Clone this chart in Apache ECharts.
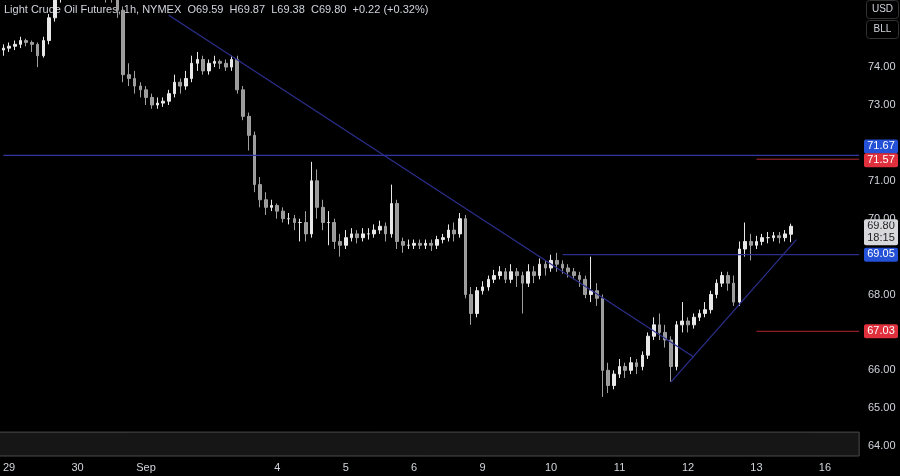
<!DOCTYPE html>
<html><head><meta charset="utf-8">
<script src="https://cdn.jsdelivr.net/npm/echarts@6/dist/echarts.min.js"></script>
<style>html,body{margin:0;background:#000;}#c{width:900px;height:476px;}</style>
</head><body><div id="c"></div>
<script>
// Hourly-ish candles [open, close, low, high]
const candles = [
[74.45,74.5,74.3,74.6],[74.5,74.55,74.4,74.65],[74.55,74.6,74.45,74.7],[74.6,74.7,74.5,74.8],[74.7,74.65,74.55,74.75],
[74.65,74.6,74.4,74.7],[74.6,74.3,74.0,74.65],[74.3,74.7,74.25,74.8],[74.7,75.3,74.6,75.4],[75.3,75.9,75.2,76.0],
[75.9,75.9,75.7,76.1],[75.9,76.0,75.8,76.2],[76.0,75.9,75.8,76.1],[75.9,76.0,75.8,76.1],[76.0,75.9,75.8,76.1],
[75.9,76.0,75.8,76.1],[76.0,75.9,75.8,76.1],[75.9,76.0,75.8,76.1],[76.0,75.9,75.7,76.1],[75.9,75.85,75.7,76.0],
[75.85,75.5,75.3,76.0],[75.5,73.8,73.6,75.6],[73.8,73.7,73.5,74.1],[73.7,73.5,73.3,73.9],[73.5,73.4,73.2,73.6],
[73.4,73.2,73.0,73.5],[73.2,73.0,72.9,73.3],[73.0,73.05,72.9,73.2],[73.05,73.1,72.95,73.2],[73.1,73.3,73.0,73.4],
[73.3,73.6,73.2,73.8],[73.6,73.5,73.3,73.7],[73.5,73.7,73.4,73.9],[73.7,74.1,73.6,74.3],[74.1,74.2,73.9,74.4],
[74.2,73.9,73.8,74.3],[73.9,74.1,73.8,74.2],[74.1,74.15,74.0,74.3],[74.15,74.1,73.95,74.2],[74.1,74.0,73.9,74.2],
[74.0,74.2,73.9,74.3],[74.2,73.4,73.3,74.3],[73.4,72.7,72.6,73.5],[72.7,72.2,71.8,72.8],[72.2,70.9,70.7,72.3],
[70.9,70.5,70.3,71.1],[70.5,70.3,70.1,70.7],[70.3,70.35,70.2,70.5],[70.35,70.2,70.0,70.4],[70.2,70.0,69.9,70.3],
[70.0,70.0,69.85,70.15],[70.0,69.9,69.7,70.1],[69.9,69.9,69.4,70.0],[69.9,69.6,69.4,70.2],[69.6,71.0,69.5,71.5],
[71.0,70.3,70.0,71.3],[70.3,69.9,69.7,70.5],[69.9,69.9,69.3,70.2],[69.9,69.4,69.2,70.0],[69.4,69.3,69.0,69.6],
[69.3,69.5,69.2,69.7],[69.5,69.6,69.4,69.75],[69.6,69.5,69.35,69.7],[69.5,69.6,69.4,69.75],[69.6,69.6,69.45,69.75],
[69.6,69.7,69.5,69.85],[69.7,69.8,69.6,69.95],[69.8,69.6,69.4,69.9],[69.6,70.4,69.5,70.9],[70.4,69.4,69.2,70.5],
[69.4,69.3,69.1,69.5],[69.3,69.3,69.2,69.45],[69.3,69.35,69.2,69.45],[69.35,69.3,69.2,69.45],[69.3,69.35,69.2,69.45],
[69.35,69.3,69.15,69.45],[69.3,69.45,69.2,69.55],[69.45,69.5,69.35,69.6],[69.5,69.7,69.4,69.85],[69.7,69.6,69.4,69.9],
[69.6,70.0,69.5,70.15],[70.0,68.0,67.9,70.1],[68.0,67.5,67.2,68.2],[67.5,68.1,67.4,68.2],[68.1,68.2,68.0,68.35],
[68.2,68.4,68.1,68.5],[68.4,68.5,68.3,68.65],[68.5,68.6,68.4,68.75],[68.6,68.4,68.3,68.7],[68.4,68.6,68.3,68.8],
[68.6,68.5,68.2,68.7],[68.5,68.3,67.5,68.6],[68.3,68.6,68.2,68.8],[68.6,68.5,68.3,68.75],[68.5,68.8,68.4,68.95],
[68.8,68.7,68.5,68.9],[68.7,68.9,68.6,69.05],[68.9,68.8,68.6,69.1],[68.8,68.7,68.55,68.9],[68.7,68.6,68.45,68.8],
[68.6,68.5,68.4,68.7],[68.5,68.4,68.2,68.6],[68.4,68.0,67.9,68.5],[68.0,68.1,67.8,69.0],[68.1,67.9,67.7,68.3],
[67.9,66.0,65.3,68.0],[66.0,65.6,65.4,66.2],[65.6,65.9,65.5,66.0],[65.9,66.1,65.8,66.3],[66.1,66.0,65.8,66.2],
[66.0,66.2,65.9,66.35],[66.2,66.1,65.9,66.3],[66.1,66.4,66.0,66.5],[66.4,66.9,66.3,67.0],[66.9,67.2,66.8,67.4],
[67.2,67.0,66.8,67.5],[67.0,66.8,66.6,67.2],[66.8,66.1,65.7,66.9],[66.1,67.2,66.0,67.3],[67.2,67.3,67.0,67.8],
[67.3,67.2,67.0,67.4],[67.2,67.4,67.1,67.5],[67.4,67.5,67.3,67.6],[67.5,67.6,67.4,67.8],[67.6,68.0,67.5,68.1],
[68.0,68.3,67.9,68.4],[68.3,68.5,68.2,68.6],[68.5,68.3,68.1,68.6],[68.3,67.8,67.7,68.5],[67.8,69.2,67.7,69.4],
[69.2,69.4,69.0,69.9],[69.4,69.3,68.9,69.6],[69.3,69.4,69.2,69.55],[69.4,69.5,69.3,69.6],[69.5,69.5,69.35,69.65],
[69.5,69.55,69.4,69.65],[69.55,69.5,69.35,69.65],[69.5,69.6,69.4,69.7],[69.59,69.80,69.38,69.87]
];
const dayLabels = {1:'29',13:'30',25:'Sep',48:'4',60:'5',72:'6',84:'9',96:'10',108:'11',120:'12',132:'13',144:'16'};
const yTickLabels = [74,73,71,70,68,66,65,64];
const hLevelBlue = 71.67, hLevelRedTop = 71.57, resistance = 69.05, hLevelRedLow = 67.03;
const downTrend = [[29,75.37],[121,66.35]];
const upTrend = [[117,65.69],[139,69.45]];
const N = 151;
const cats = Array.from({length:N},(_,i)=>String(i));
const lastClose = candles[candles.length-1][1];

const chart = echarts.init(document.getElementById('c'));
const navy = '#2b2f8c';
const red = '#b22833';
const F = 'Liberation Sans, DejaVu Sans, sans-serif';
function seg(pts,color,w){return {type:'line',data:pts,showSymbol:false,symbol:'none',silent:true,z:3,
  lineStyle:{color:color,width:w},itemStyle:{color:color}};}
chart.setOption({
  backgroundColor:'#000',
  animation:false,
  grid:{left:0,right:38,top:0,bottom:20},
  xAxis:{type:'category',data:cats,boundaryGap:true,
    axisLine:{show:false},axisTick:{show:false},splitLine:{show:false},
    axisLabel:{interval:0,color:'#d1d4dc',fontFamily:F,fontSize:11,margin:6,
      formatter:(v,i)=>dayLabels[i]||''}},
  yAxis:{type:'value',position:'right',min:63.74,max:75.77,
    splitLine:{show:false},axisLine:{show:false},axisTick:{show:false},
    axisLabel:{color:'#d1d4dc',fontFamily:F,fontSize:11,margin:6,customValues:yTickLabels,
      formatter:v=>v.toFixed(2)}},
  series:[{
    type:'candlestick',data:candles,barWidth:'55%',z:2,
    itemStyle:{color:'#e8e8e8',color0:'#9a9a9a',borderColor:'#e8e8e8',borderColor0:'#a0a0a0',borderWidth:1},
    markArea:{silent:true,itemStyle:{color:'#161616',borderColor:'#4a4a4a',borderWidth:1},
      data:[[{yAxis:63.74,x:-2},{yAxis:64.37,xAxis:N-1}]]}
  },
  seg([[0,hLevelBlue],[N-1,hLevelBlue]],'#3236a0',1.4),
  seg([[98,resistance],[N-1,resistance]],navy,1.2),
  seg(downTrend,navy,1.2),
  seg(upTrend,navy,1.2),
  seg([[132,hLevelRedTop],[N-1,hLevelRedTop]],red,1),
  seg([[132,hLevelRedLow],[N-1,hLevelRedLow]],red,1)
  ]
});

function tag(v,bg,fg,extra,dy){
  const y = chart.convertToPixel({yAxisIndex:0},v)+(dy||0);
  const h = extra?26:14;
  return {type:'group',left:864,top:y-7,z:10,children:[
    {type:'rect',shape:{x:0,y:0,width:34,height:h,r:2},style:{fill:bg}},
    {type:'text',style:{x:17,y:1,text:v.toFixed(2),fill:fg,font:'11px '+F,textAlign:'center'}},
    extra?{type:'text',style:{x:17,y:13,text:extra,fill:fg,font:'11px '+F,textAlign:'center'}}:{type:'text',style:{text:''}}
  ]};
}
chart.setOption({graphic:[
  {type:'text',left:4,top:4,style:{text:'Light Crude Oil Futures, 1h, NYMEX  O69.59  H69.87  L69.38  C69.80  +0.22 (+0.32%)',fill:'#d1d4dc',font:'11px '+F}},
  {type:'group',left:866,top:0,children:[
    {type:'rect',shape:{x:0,y:0,width:32,height:18,r:3},style:{fill:'#000',stroke:'#333'}},
    {type:'text',style:{x:16,y:4,text:'USD',fill:'#d1d4dc',font:'10px '+F,textAlign:'center'}},
    {type:'rect',shape:{x:0,y:20,width:32,height:18,r:3},style:{fill:'#000',stroke:'#333'}},
    {type:'text',style:{x:16,y:24,text:'BLL',fill:'#d1d4dc',font:'10px '+F,textAlign:'center'}}
  ]},
  tag(hLevelBlue,'#2451d6','#fff',null,-9),
  tag(hLevelRedTop,'#e0303d','#fff',null,1),
  tag(lastClose,'#d8d8dc','#222','18:15'),
  tag(resistance,'#2451d6','#fff'),
  tag(hLevelRedLow,'#e0303d','#fff')
]});
</script></body></html>
